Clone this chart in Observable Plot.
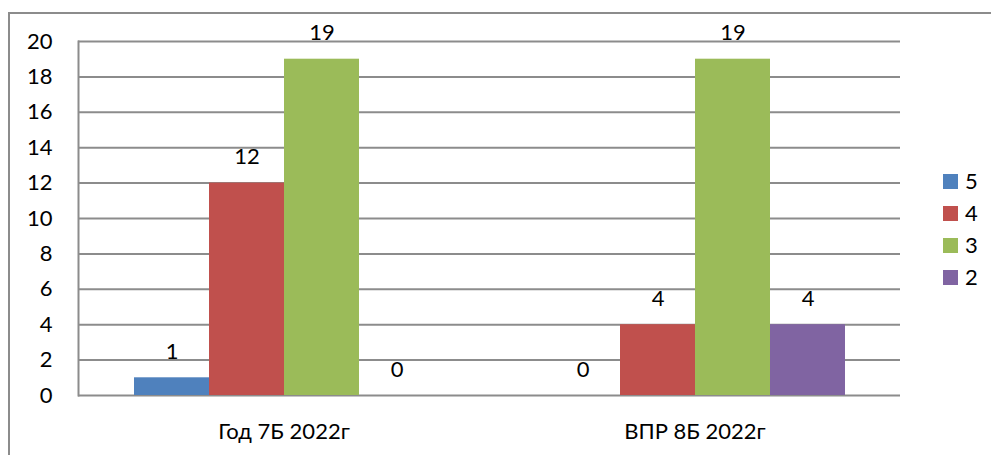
<!DOCTYPE html>
<html>
<head>
<meta charset="utf-8">
<script src="https://cdn.jsdelivr.net/npm/d3@7"></script>
<script src="https://cdn.jsdelivr.net/npm/@observablehq/plot@0.6"></script>
<style>
  html, body { margin: 0; padding: 0; background: #fff; }
  body { position: relative; width: 991px; height: 455px; overflow: hidden; font-family: Lato, "Noto Sans", sans-serif; }
  #border { position: absolute; left: 8px; top: 12px; width: 1100px; height: 600px; border: 2px solid #8c8c8c; box-sizing: border-box; }
  #chart { position: absolute; left: 0; top: 0; }
  #legend { position: absolute; left: 943px; top: 157px; }
  .item { display: flex; align-items: center; height: 48px; margin-top: -16px; }
  .item:first-child { margin-top: 0; }
  .sw { width: 15px; height: 15px; margin-right: 7px; }
  .lb { font-size: 22px; color: #000; line-height: 1; }
</style>
</head>
<body>
<div id="border"></div>
<div id="chart"></div>
<div id="legend"></div>
<script>
const groups = ["Год 7Б 2022г", "ВПР 8Б 2022г"];
const grades = ["5", "4", "3", "2"];
const values5 = [1, 0];
const values4 = [12, 4];
const values3 = [19, 19];
const values2 = [0, 4];
const colors = ["#4F81BD", "#C0504D", "#9BBB59", "#8064A2"];
const yTicks = [0, 2, 4, 6, 8, 10, 12, 14, 16, 18, 20];

const series = [values5, values4, values3, values2];
const data = [];
groups.forEach((g, gi) => grades.forEach((gr, si) => data.push({group: g, grade: gr, value: series[si][gi]})));

const gridColor = "#8c8c8c";
const chart = Plot.plot({
  width: 991,
  height: 455,
  marginLeft: 78,
  marginRight: 91,
  marginTop: 41,
  marginBottom: 60,
  style: {fontFamily: "Lato, 'Noto Sans', sans-serif", fontSize: "22px", color: "#000", background: "transparent"},
  fx: {domain: groups, paddingInner: 0, paddingOuter: 0, label: null},
  x: {domain: grades, paddingInner: 0, paddingOuter: 0.74, axis: null},
  y: {domain: [0, 20], label: null},
  color: {domain: grades, range: colors},
  marks: [
    Plot.gridY(yTicks, {stroke: gridColor, strokeOpacity: 1, strokeWidth: 2}),
    Plot.frame({anchor: "left", facetAnchor: "left", stroke: gridColor, strokeWidth: 2}),
    Plot.barY(data, {fx: "group", x: "grade", y: "value", fill: d => d.grade}),
    Plot.text(data, {fx: "group", x: "grade", y: "value", text: d => String(d.value), dy: -26, fontSize: 22, fill: "#000"}),
    Plot.axisY(yTicks, {anchor: "left", tickSize: 0, tickPadding: 26, fontSize: 22, label: null, facetAnchor: "left"}),
    Plot.axisFx({anchor: "bottom", tickSize: 0, tickPadding: 28, fontSize: 22, label: null})
  ]
});
document.getElementById("chart").appendChild(chart);

const legend = document.getElementById("legend");
grades.forEach((gr, i) => {
  const item = document.createElement("div");
  item.className = "item";
  item.innerHTML = `<div class="sw" style="background:${colors[i]}"></div><div class="lb">${gr}</div>`;
  legend.appendChild(item);
});
</script>
</body>
</html>
